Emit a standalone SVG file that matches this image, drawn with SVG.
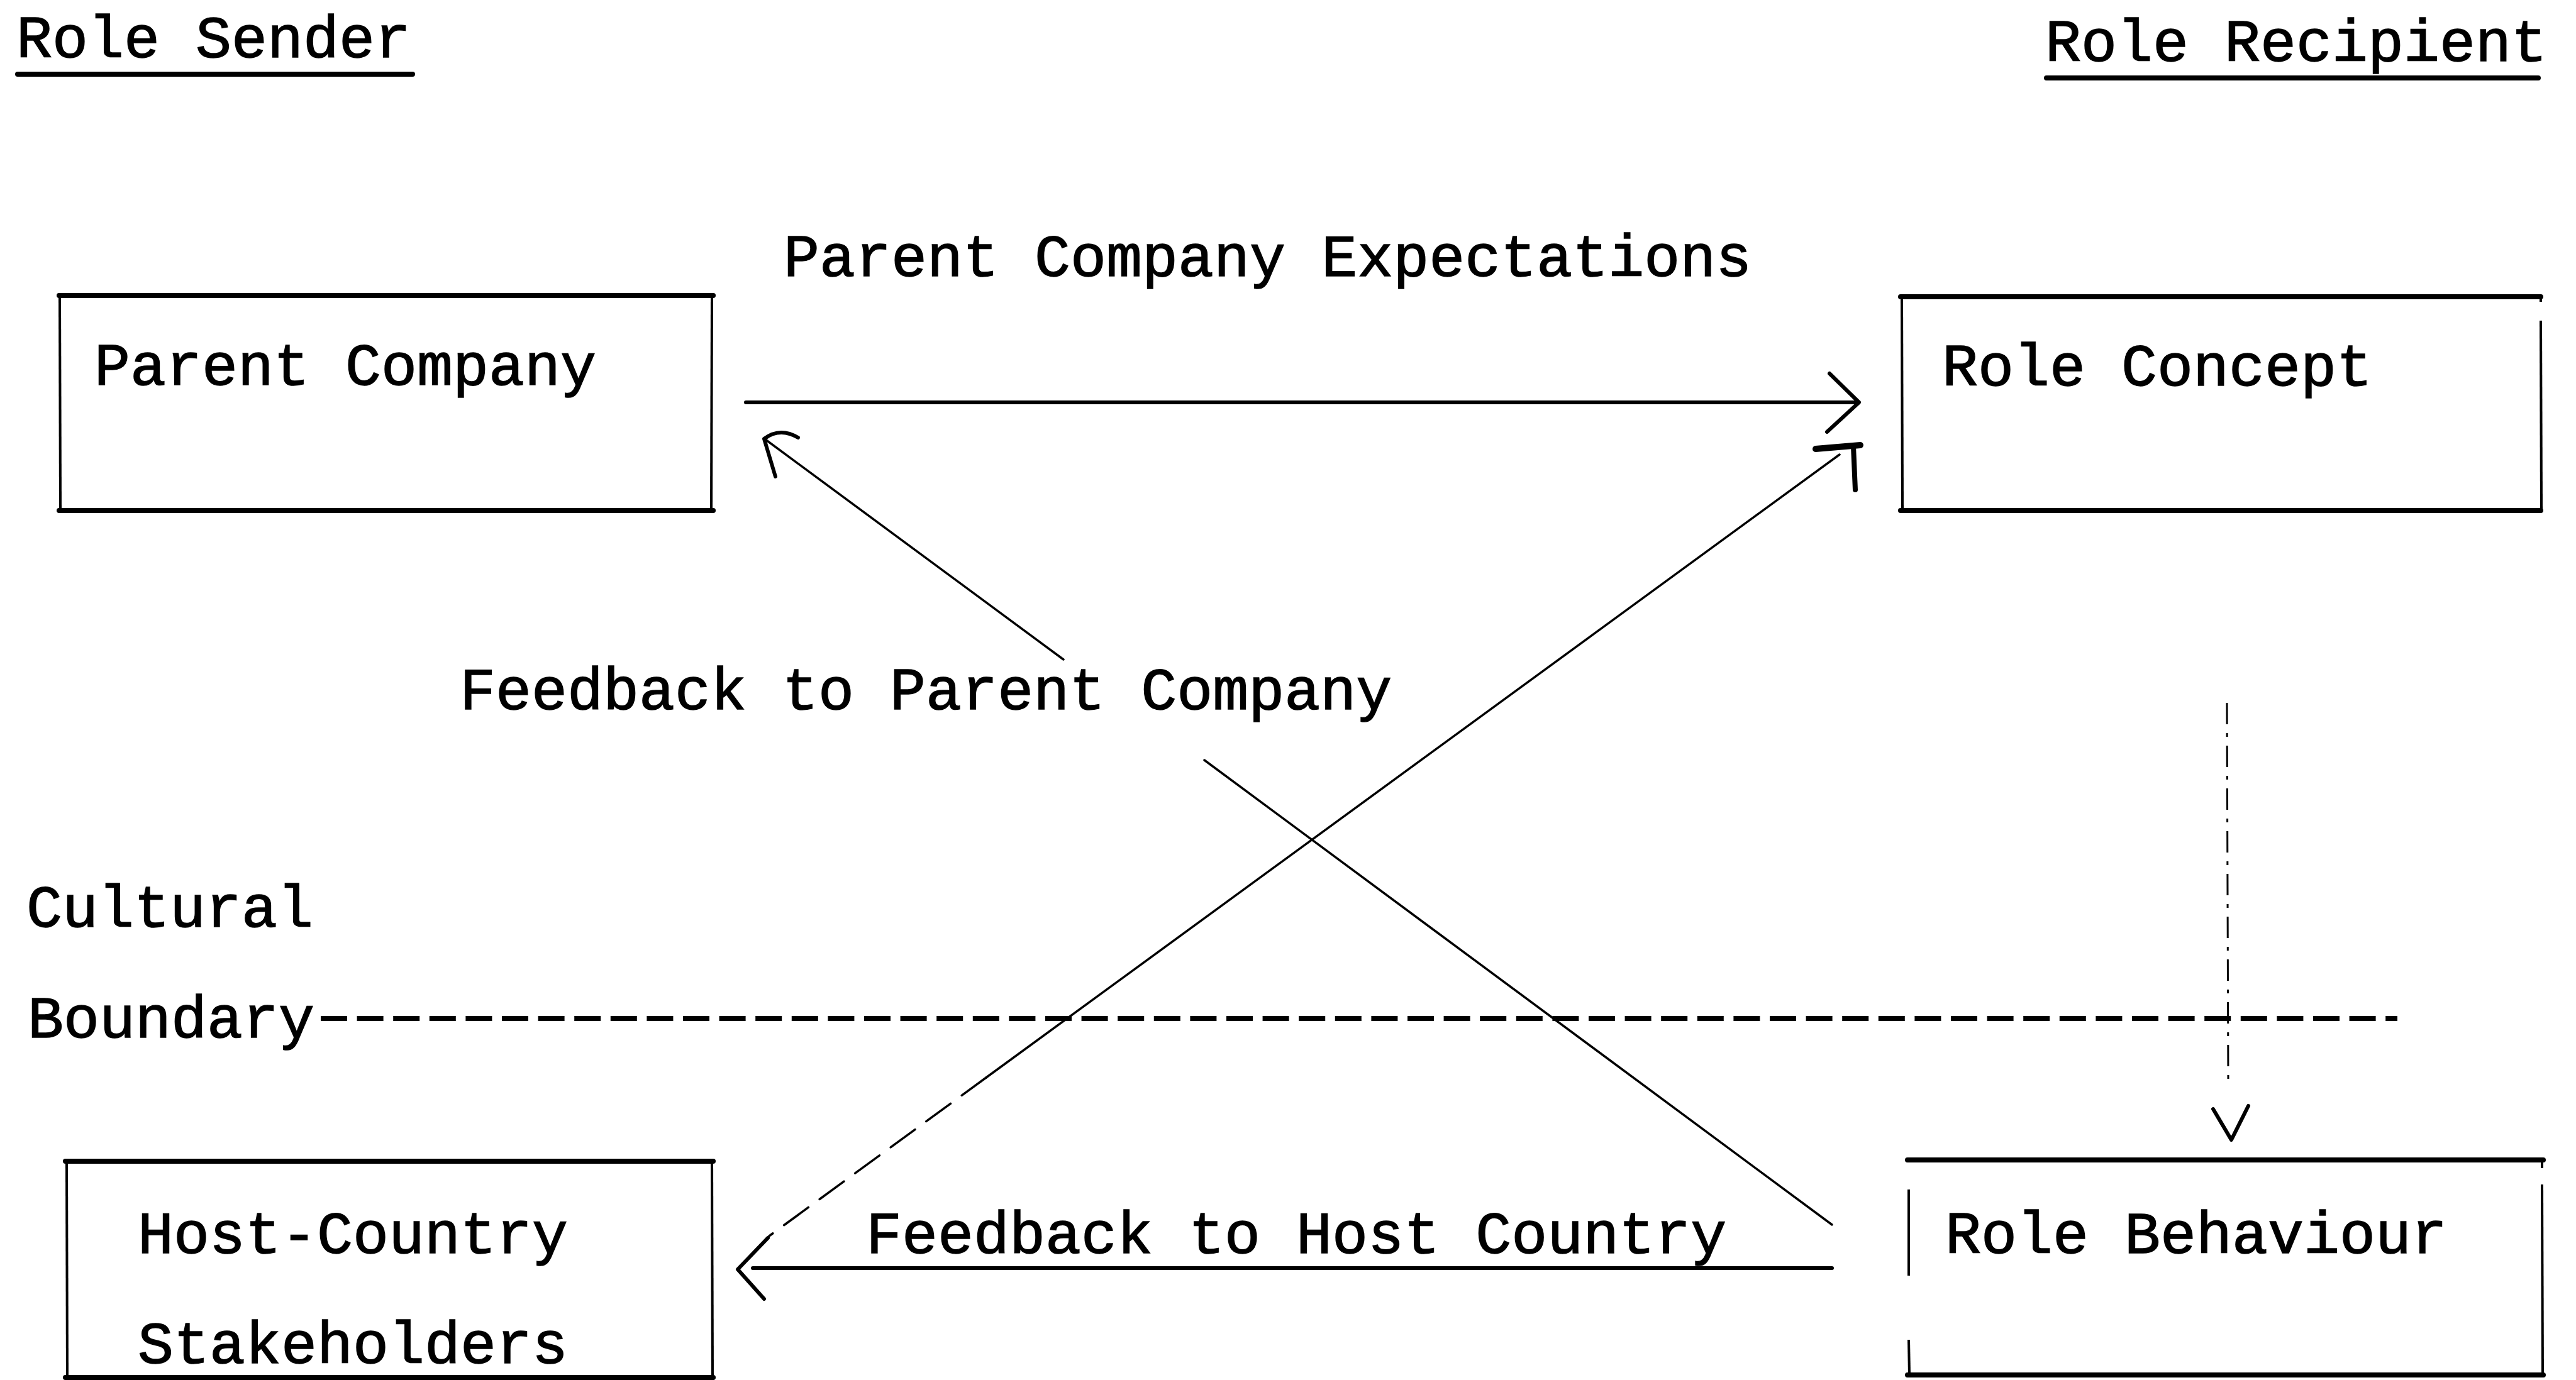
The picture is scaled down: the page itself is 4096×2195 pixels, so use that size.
<svg xmlns="http://www.w3.org/2000/svg" width="4096" height="2195" viewBox="0 0 4096 2195">
<style>
text{font-family:"Liberation Mono","DejaVu Sans Mono",monospace;font-size:95px;fill:#000;stroke:#000;stroke-width:1.5}
.edge{stroke:#000;stroke-width:8;stroke-linecap:round;fill:none}
.side{stroke:#000;stroke-width:4;fill:none}
.thin{stroke:#000;stroke-width:3.5;fill:none;stroke-linecap:round}
.thick{stroke:#000;stroke-width:6;fill:none;stroke-linecap:round;stroke-linejoin:round}
</style>
<rect width="4096" height="2195" fill="#fff"/>

<g id="header-sender">
<text x="26" y="91">Role Sender</text>
<line class="edge" x1="28" y1="118" x2="656" y2="118"/>
</g>
<g id="header-recipient">
<text x="3252" y="97">Role Recipient</text>
<line class="edge" x1="3254" y1="124" x2="4036" y2="124"/>
</g>

<g id="node-parent-company">
<line class="edge" x1="94" y1="470" x2="1134" y2="470"/>
<line class="edge" x1="94" y1="812" x2="1134" y2="812"/>
<line class="side" x1="95" y1="470" x2="96" y2="812"/>
<line class="side" x1="1132" y1="470" x2="1131" y2="812"/>
<text x="150" y="612">Parent Company</text>
</g>

<g id="node-role-concept">
<line class="edge" x1="3022" y1="472" x2="4040" y2="472"/>
<line class="edge" x1="3022" y1="812" x2="4040" y2="812"/>
<line class="side" x1="3024" y1="472" x2="3025" y2="812"/>
<line class="side" x1="4040" y1="472" x2="4040" y2="480"/>
<line class="side" x1="4040" y1="510" x2="4041" y2="812"/>
<text x="3088" y="613">Role Concept</text>
</g>

<g id="node-host-country">
<line class="edge" x1="104" y1="1847" x2="1134" y2="1847"/>
<line class="edge" x1="104" y1="2191" x2="1134" y2="2191"/>
<line class="side" x1="106" y1="1847" x2="107" y2="2195"/>
<line class="side" x1="1132" y1="1847" x2="1133" y2="2195"/>
<text x="219" y="1993">Host-Country</text>
<text x="219" y="2168">Stakeholders</text>
</g>

<g id="node-role-behaviour">
<line class="edge" x1="3033" y1="1845" x2="4044" y2="1845"/>
<line class="edge" x1="3033" y1="2187" x2="4044" y2="2187"/>
<line class="side" x1="3035" y1="1892" x2="3035" y2="2029"/>
<line class="side" x1="3035" y1="2131" x2="3036" y2="2187"/>
<line class="side" x1="4042" y1="1845" x2="4042" y2="1858"/>
<line class="side" x1="4042" y1="1884" x2="4043" y2="2187"/>
<text x="3093" y="1993">Role Behaviour</text>
</g>

<g id="boundary">
<text x="42" y="1474">Cultural</text>
<text x="44" y="1650">Boundary</text>
<line x1="510" y1="1620" x2="3812" y2="1620" stroke="#000" stroke-width="8" stroke-dasharray="42 15.6"/>
</g>

<g id="connectors">
<!-- Parent Company Expectations -->
<line class="thick" x1="1186" y1="640" x2="2950" y2="640"/>
<polyline class="thick" points="2909,594 2956,640 2905,687"/>
<text x="1246" y="439">Parent Company Expectations</text>

<!-- Feedback to Parent Company -->
<line class="thin" x1="2913" y1="1948" x2="1915" y2="1209"/>
<line class="thin" x1="1691" y1="1049" x2="1217" y2="699"/>
<path class="thick" d="M1269,696 Q1240,679 1215,698 L1233,758"/>
<text x="731" y="1128">Feedback to Parent Company</text>

<!-- Role Behaviour to Role Concept / Host Country diagonal -->
<line class="thin" x1="2925" y1="723" x2="1568" y2="1714"/>
<line class="thin" x1="1568" y1="1714" x2="1223" y2="1966" stroke-dasharray="48 22"/>
<path class="thick" d="M1221,1969 L1173,2019 L1215,2066"/>
<line x1="2887" y1="714" x2="2958" y2="708" stroke="#000" stroke-width="10" stroke-linecap="round"/>
<line x1="2947" y1="710" x2="2950" y2="779" stroke="#000" stroke-width="8" stroke-linecap="round"/>

<!-- Feedback to Host Country -->
<line class="thick" x1="1197" y1="2017" x2="2913" y2="2017"/>
<text x="1377" y="1993">Feedback to Host Country</text>

<!-- Role Concept to Role Behaviour (dotted) -->
<line x1="3541" y1="1118" x2="3543" y2="1721" stroke="#000" stroke-width="3" stroke-dasharray="34 14 6 14"/>
<polyline class="thick" points="3519,1764 3548,1813 3575,1759"/>
</g>
</svg>
